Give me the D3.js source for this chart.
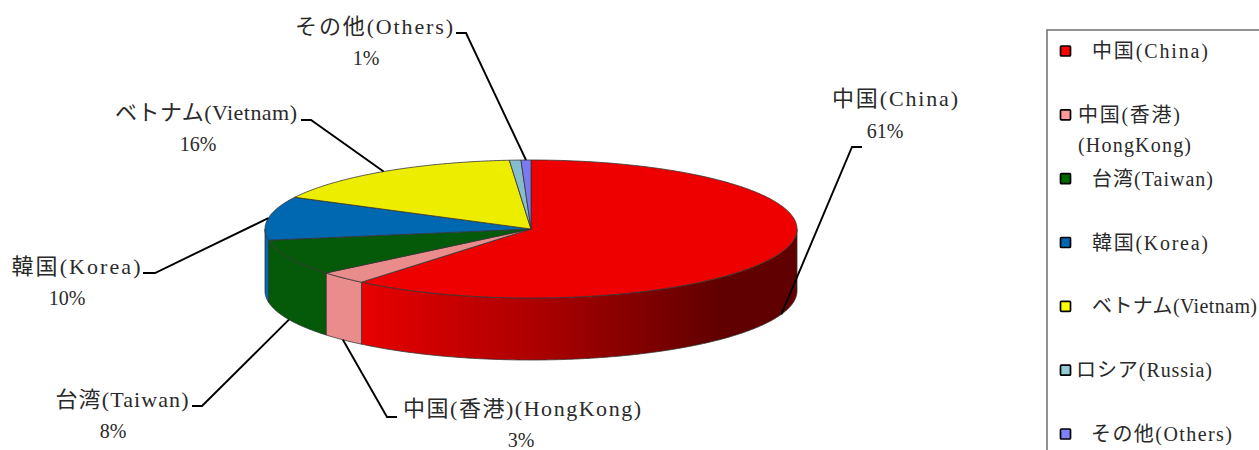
<!DOCTYPE html>
<html lang="ja">
<head>
<meta charset="utf-8">
<title>中国 pie</title>
<script src="https://cdn.jsdelivr.net/npm/d3@7"></script>
<style>
  html, body { margin: 0; padding: 0; background: #fff; overflow: hidden; }
  text { font-family: "Liberation Serif", "Noto Sans CJK JP", serif; fill: #2a2a2a; }
</style>
</head>
<body>
<div id="chart"></div>
<script>
// data
const categories = ["中国(China)", "中国(香港)(HongKong)", "台湾(Taiwan)", "韓国(Korea)", "ベトナム(Vietnam)", "ロシア(Russia)", "その他(Others)"];
const shares = [61.0, 3.0, 8.4, 10.2, 16.1, 0.7, 0.6];
const topColors = ["#ee0000", "#ea8c8c", "#045a09", "#0068b0", "#eded00", "#86bccc", "#7b7bef"];
const legendColors = ["#ff0000", "#ff9999", "#006600", "#0066b3", "#ffff00", "#92ccd9", "#8080ff"];
const legendLines = [["中国(China)"], ["中国(香港)", "(HongKong)"], ["台湾(Taiwan)"], ["韓国(Korea)"], ["ベトナム(Vietnam)"], ["ロシア(Russia)"], ["その他(Others)"]];

// label placement: name centre and y, name width, percent centre and y, elbow start, elbow end
const labelLayout = [
  { x: 895, y: 98,  w: 126, px: 885, py: 131, from: [862, 147], elbow: [852, 147] },
  { x: 522, y: 408, w: 238, px: 521, py: 440, from: [397, 417], elbow: [387, 417] },
  { x: 122, y: 399, w: 133, px: 113, py: 431, from: [192, 406], elbow: [202, 406] },
  { x: 76,  y: 266, w: 129, px: 67,  py: 298, from: [143, 273], elbow: [155, 273] },
  { x: 206, y: 112, w: 182, px: 198, py: 144, from: [301, 120], elbow: [311, 120] },
  null,
  { x: 374, y: 26,  w: 158, px: 366, py: 58,  from: [456, 33],  elbow: [466, 33] }
];
// legend text: left edge and width of each line
const legendText = [
  [{ x: 1092, w: 116 }],
  [{ x: 1078, w: 102 }, { x: 1078, w: 113 }],
  [{ x: 1092, w: 121 }],
  [{ x: 1092, w: 116 }],
  [{ x: 1092, w: 165 }],
  [{ x: 1076, w: 136 }],
  [{ x: 1091, w: 141 }]
];

const width = 1259, height = 450;
const cx = 531, cy = 229, rx = 266, ry = 69, depth = 62;

let svg = d3.select("#chart").append("svg")
  .attr("width", width)
  .attr("height", height)
  .style("display", "block");

let slices = d3.pie().sort(null).value(d => d)(shares);

// point on the top ellipse, angle clockwise from 12 o'clock
function ell(a, dy) {
  return [cx + rx * Math.sin(a), cy - ry * Math.cos(a) + (dy || 0)];
}
function arcPoints(a0, a1, dy) {
  let n = Math.max(2, Math.ceil(Math.abs(a1 - a0) / 0.01));
  return d3.range(n + 1).map(i => ell(a0 + (a1 - a0) * i / n, dy));
}
let line = d3.line();

// gradient on the china wall
let grad = svg.append("defs").append("linearGradient")
  .attr("id", "china-side")
  .attr("gradientUnits", "userSpaceOnUse")
  .attr("x1", ell(slices[0].endAngle)[0]).attr("x2", cx + rx)
  .attr("y1", 0).attr("y2", 0);
[[0, "#e80000"], [0.45, "#a40000"], [0.82, "#610000"], [1, "#600000"]].forEach(function (s) {
  grad.append("stop").attr("offset", s[0]).attr("stop-color", s[1]);
});

// walls, only the front half of the ellipse shows
let front0 = Math.PI / 2, front1 = 3 * Math.PI / 2;
let walls = slices.filter(d => d.endAngle > front0 && d.startAngle < front1);
svg.append("g").selectAll("path").data(walls).enter().append("path")
  .attr("d", function (d) {
    let a0 = Math.max(d.startAngle, front0), a1 = Math.min(d.endAngle, front1);
    return line(arcPoints(a0, a1, 0).concat(arcPoints(a1, a0, depth))) + "Z";
  })
  .attr("fill", d => d.index === 0 ? "url(#china-side)" : topColors[d.index])
  .attr("stroke", "#333")
  .attr("stroke-width", 0.8);

// top face
svg.append("g").selectAll("path").data(slices).enter().append("path")
  .attr("d", d => line([[cx, cy]].concat(arcPoints(d.startAngle, d.endAngle, 0))) + "Z")
  .attr("fill", (d, i) => topColors[i])
  .attr("stroke", "#333")
  .attr("stroke-width", 0.8);

// leader lines start at the slice's middle angle, on the lower rim when it faces front
svg.append("g").selectAll("path").data(slices.filter(d => labelLayout[d.index])).enter().append("path")
  .attr("d", function (d) {
    let mid = (d.startAngle + d.endAngle) / 2;
    let p = ell(mid, Math.cos(mid) < 0 ? depth : 0);
    let l = labelLayout[d.index];
    return line([l.from, l.elbow, p]);
  })
  .attr("fill", "none")
  .attr("stroke", "#000")
  .attr("stroke-width", 1.9);

// labels
let labels = svg.append("g").selectAll("g").data(slices.filter(d => labelLayout[d.index])).enter().append("g")
  .attr("text-anchor", "middle");
labels.append("text")
  .attr("x", d => labelLayout[d.index].x)
  .attr("y", d => labelLayout[d.index].y)
  .attr("dy", "0.35em")
  .attr("font-size", 22)
  .attr("textLength", d => labelLayout[d.index].w)
  .attr("lengthAdjust", "spacing")
  .text(d => categories[d.index]);
labels.append("text")
  .attr("x", d => labelLayout[d.index].px)
  .attr("y", d => labelLayout[d.index].py)
  .attr("dy", "0.35em")
  .attr("font-size", 20)
  .text(d => Math.round(d.data) + "%");

// legend, its frame runs off the picture
svg.append("rect")
  .attr("x", 1047).attr("y", 30)
  .attr("width", 240).attr("height", 460)
  .attr("fill", "#fff")
  .attr("stroke", "#777")
  .attr("stroke-width", 1.6);

let legendY = d3.scalePoint().domain(d3.range(categories.length)).range([51, 434]);
let legend = svg.append("g").selectAll("g").data(categories).enter().append("g")
  .attr("transform", (d, i) => "translate(0," + legendY(i) + ")");
legend.append("rect")
  .attr("x", 1060.5).attr("y", -5)
  .attr("width", 10).attr("height", 10)
  .attr("rx", 1)
  .attr("fill", (d, i) => legendColors[i])
  .attr("stroke", "#000")
  .attr("stroke-width", 1.7);
legend.each(function (d, i) {
  let g = d3.select(this);
  legendLines[i].forEach(function (t, j) {
    g.append("text")
      .attr("x", legendText[i][j].x)
      .attr("y", j * 30)
      .attr("dy", "0.35em")
      .attr("font-size", 20)
      .attr("textLength", legendText[i][j].w)
      .attr("lengthAdjust", "spacing")
      .text(t);
  });
});
</script>
</body>
</html>
